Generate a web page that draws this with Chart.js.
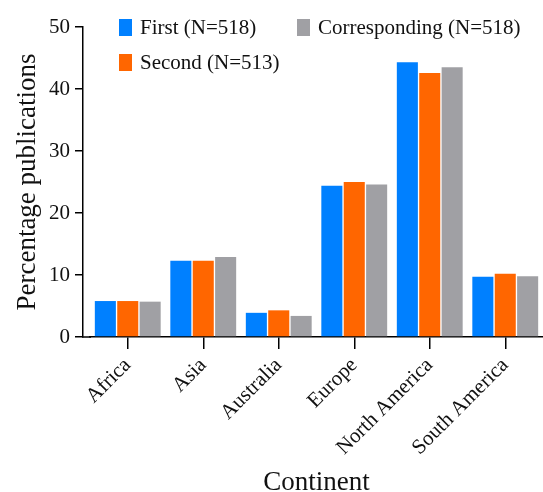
<!DOCTYPE html>
<html>
<head>
<meta charset="utf-8">
<script src="https://cdn.jsdelivr.net/npm/chart.js@4.4.0/dist/chart.umd.min.js"></script>
<style>
  html, body { margin: 0; padding: 0; background: #fff; }
  #wrap { position: relative; width: 543px; height: 492px; }
  #legend {
    position: absolute; left: 119px; top: 10px;
    display: grid; grid-template-columns: 178px auto; grid-auto-rows: 35px;
    font-family: "Liberation Serif", serif; font-size: 21px; color: #111;
  }
  #legend .item { display: flex; align-items: center; white-space: nowrap; }
  #legend .box { width: 13px; height: 17px; margin-right: 8px; }
</style>
</head>
<body>
<div id="wrap">
  <canvas id="chart" width="543" height="492"></canvas>
  <div id="legend"></div>
</div>
<script>
// data
var continents = ['Africa', 'Asia', 'Australia', 'Europe', 'North America', 'South America'];
var firstAuthor = [5.8, 12.3, 3.9, 24.4, 44.3, 9.7];
var secondAuthor = [5.8, 12.3, 4.3, 25.0, 42.6, 10.2];
var correspondingAuthor = [5.7, 12.9, 3.4, 24.6, 43.5, 9.8];
var seriesNames = ['First (N=518)', 'Second (N=513)', 'Corresponding (N=518)'];
var seriesColors = ['#0080ff', '#ff6600', '#a0a0a4'];
var yTicks = [0, 10, 20, 30, 40, 50];

var serif = "'Liberation Serif', serif";

// y axis line sits a few px left of the first bar, so fill that gap on the x axis
var axisGap = {
  id: 'axisGap',
  afterDraw: function(chart) {
    var ctx = chart.ctx;
    var a = chart.chartArea;
    ctx.save();
    ctx.strokeStyle = '#000';
    ctx.lineWidth = 1.5;
    ctx.beginPath();
    ctx.moveTo(a.left - 8, a.bottom);
    ctx.lineTo(a.left + 1, a.bottom);
    ctx.stroke();
    ctx.restore();
  }
};

var datasets = [firstAuthor, secondAuthor, correspondingAuthor].map(function(vals, i) {
  return {
    label: seriesNames[i],
    data: vals,
    backgroundColor: seriesColors[i],
    borderWidth: 0,
    categoryPercentage: 0.89,
    barPercentage: 0.94
  };
});

var chart = new Chart(document.getElementById('chart'), {
  type: 'bar',
  data: { labels: continents, datasets: datasets },
  plugins: [axisGap],
  options: {
    responsive: false,
    animation: false,
    layout: { padding: { top: 27, left: 0, right: 0, bottom: 0 } },
    plugins: { legend: { display: false }, tooltip: { enabled: false } },
    scales: {
      x: {
        grid: { display: true, offset: false, drawOnChartArea: false, tickLength: 12, color: '#000', lineWidth: 1.5 },
        border: { display: true, color: '#000', width: 1.5 },
        ticks: { color: '#111', font: { family: serif, size: 21 }, minRotation: 45, maxRotation: 45, padding: 4 },
        title: { display: true, text: 'Continent', color: '#111', font: { family: serif, size: 27, lineHeight: 1 }, padding: { top: 0, bottom: -4 } },
        afterFit: function(s) { s.height = 155; }
      },
      y: {
        weight: 1,
        min: 0, max: 50,
        afterBuildTicks: function(s) { s.ticks = yTicks.map(function(v) { return { value: v }; }); },
        grid: { drawOnChartArea: false, tickLength: 8, color: '#000', lineWidth: 1.5 },
        border: { display: true, color: '#000', width: 1.5 },
        ticks: { color: '#111', font: { family: serif, size: 21 }, padding: 5 },
        title: { display: true, text: 'Percentage publications', color: '#111', font: { family: serif, size: 27, lineHeight: 1 }, padding: { top: 14, bottom: 0 } },
        afterFit: function(s) { s.width = 83; }
      },
      gap: {
        type: 'linear', position: 'left', weight: 0,
        grid: { display: false }, border: { display: false }, ticks: { display: false },
        afterFit: function(s) { s.width = 7; }
      }
    }
  }
});

// legend in two columns: First, Corresponding / Second
var legendOrder = [0, 2, 1];
var legend = document.getElementById('legend');
legendOrder.forEach(function(i) {
  var item = document.createElement('div');
  item.className = 'item';
  var box = document.createElement('span');
  box.className = 'box';
  box.style.background = seriesColors[i];
  var txt = document.createElement('span');
  txt.textContent = seriesNames[i];
  item.appendChild(box);
  item.appendChild(txt);
  legend.appendChild(item);
});
</script>
</body>
</html>
